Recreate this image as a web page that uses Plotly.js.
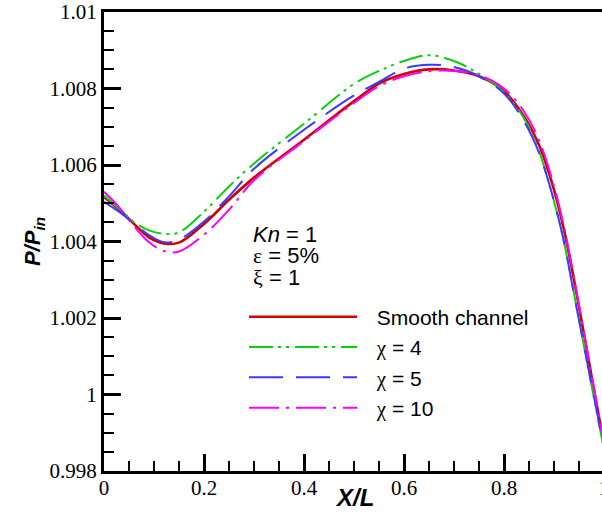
<!DOCTYPE html>
<html>
<head>
<meta charset="utf-8">
<script src="https://cdn.plot.ly/plotly-3.0.1.min.js"></script>
<style>
html,body{margin:0;padding:0;overflow:hidden;background:#fff;}
#chart{width:604px;height:515px;}
</style>
</head>
<body>
<div id="chart"></div>
<script>
// X/L positions
var xPos = [0, 0.03, 0.06, 0.09, 0.12, 0.15, 0.2, 0.25, 0.3, 0.4, 0.5, 0.55, 0.6, 0.65, 0.7, 0.75, 0.8, 0.84, 0.87, 0.9, 0.92, 0.94, 0.97, 1.0];
// P/Pin values
var smooth = [1.00516, 1.00484, 1.00446, 1.00411, 1.00395, 1.00397, 1.00446, 1.00509, 1.00567, 1.00666, 1.00767, 1.00813, 1.00838, 1.00850, 1.00847, 1.00832, 1.00793, 1.00727, 1.00652, 1.00535, 1.00430, 1.00300, 1.00085, 0.99868];
var chi4 =   [1.00520, 1.00486, 1.00451, 1.00429, 1.00420, 1.00424, 1.00478, 1.00544, 1.00604, 1.00708, 1.00812, 1.00846, 1.00872, 1.00887, 1.00872, 1.00838, 1.00790, 1.00722, 1.00636, 1.00505, 1.00398, 1.00264, 1.00058, 0.99856];
var chi5 =   [1.00504, 1.00478, 1.00447, 1.00417, 1.00398, 1.00405, 1.00452, 1.00518, 1.00590, 1.00692, 1.00782, 1.00817, 1.00852, 1.00862, 1.00856, 1.00832, 1.00787, 1.00714, 1.00632, 1.00506, 1.00399, 1.00262, 1.00060, 0.99860];
var chi10 =  [1.00530, 1.00490, 1.00440, 1.00398, 1.00375, 1.00374, 1.00418, 1.00483, 1.00560, 1.00663, 1.00762, 1.00806, 1.00832, 1.00845, 1.00846, 1.00835, 1.00800, 1.00740, 1.00665, 1.00545, 1.00438, 1.00305, 1.00088, 0.99870];

var GAP = '\u2002\u2009';
var CHI = '<span style="font-family:Liberation Serif">χ</span>';
var seriesNames = [GAP + 'Smooth channel', GAP + CHI + ' = 4', GAP + CHI + ' = 5', GAP + CHI + ' = 10'];
var seriesData = [smooth, chi4, chi5, chi10];
var seriesColors = ['#d20000', '#10cc10', '#3a3aff', '#ff00ff'];
var seriesDash = ['solid', '24px,5px,3px,5px,3px,6px', '34px,13px', '30px,7px,3px,7px'];
var seriesWidth = [2.6, 2, 2, 2];

var traces = seriesData.map(function (ys, i) {
  return {
    x: xPos, y: ys, type: 'scatter', mode: 'lines', name: seriesNames[i],
    line: {color: seriesColors[i], dash: seriesDash[i], width: seriesWidth[i], shape: 'spline', smoothing: 1}
  };
});

var SERIF = 'Liberation Serif';
var SANS = 'Liberation Sans';
var tickFont = {family: SERIF, size: 21, color: '#000'};
var paramText = '<span style="font-size:22px"><i>Kn</i> = 1</span><br>' +
  '<span style="font-size:22px"><span style="font-family:Liberation Serif">ε</span> = 5%</span><br>' +
  '<span style="font-size:22px"><span style="font-family:Liberation Serif">ξ</span> = 1</span>';
var layout = {
  width: 604, height: 515,
  margin: {l: 104, r: 0, t: 12, b: 44},
  paper_bgcolor: '#fff', plot_bgcolor: '#fff',
  showlegend: true,
  legend: {
    x: 0.28, y: 0.38, xanchor: 'left', yanchor: 'top',
    bgcolor: 'rgba(0,0,0,0)', borderwidth: 0,
    itemwidth: 108,
    font: {family: SANS, size: 21, color: '#000'}
  },
  xaxis: {
    range: [0, 1], showgrid: false, zeroline: false,
    showline: true, linecolor: '#000', linewidth: 3, mirror: true,
    ticks: 'inside', ticklen: 17, tickwidth: 3, tickcolor: '#000',
    tick0: 0, dtick: 0.2, ticklabeloverflow: 'allow', ticklabelstandoff: -4,
    minor: {ticks: 'inside', dtick: 0.05, ticklen: 10, tickwidth: 2, tickcolor: '#000'},
    tickfont: tickFont
  },
  yaxis: {
    range: [0.998, 1.01], showgrid: false, zeroline: false,
    showline: true, linecolor: '#000', linewidth: 3, mirror: false,
    ticks: 'inside', ticklen: 17, tickwidth: 3, tickcolor: '#000',
    tick0: 0.998, dtick: 0.002,
    minor: {ticks: 'inside', dtick: 0.0005, ticklen: 10, tickwidth: 2, tickcolor: '#000'},
    tickfont: tickFont,
    title: {text: '<b><i>P/P<sub>in</sub></i></b>', font: {family: SANS, size: 22, color: '#000'}}
  },
  annotations: [
    {xref: 'paper', yref: 'paper', x: 0.5, y: -0.057, xanchor: 'center', yanchor: 'middle', showarrow: false,
     text: '<b><i>X/L</i></b>', font: {family: SANS, size: 24, color: '#000'}},
    {xref: 'paper', yref: 'paper', x: 0.294, y: 0.468, xanchor: 'left', yanchor: 'middle', showarrow: false, align: 'left',
     text: paramText, font: {family: SANS, size: 16.5, color: '#000'}}
  ]
};

Plotly.newPlot('chart', traces, layout, {displayModeBar: false, staticPlot: true});
</script>
</body>
</html>
